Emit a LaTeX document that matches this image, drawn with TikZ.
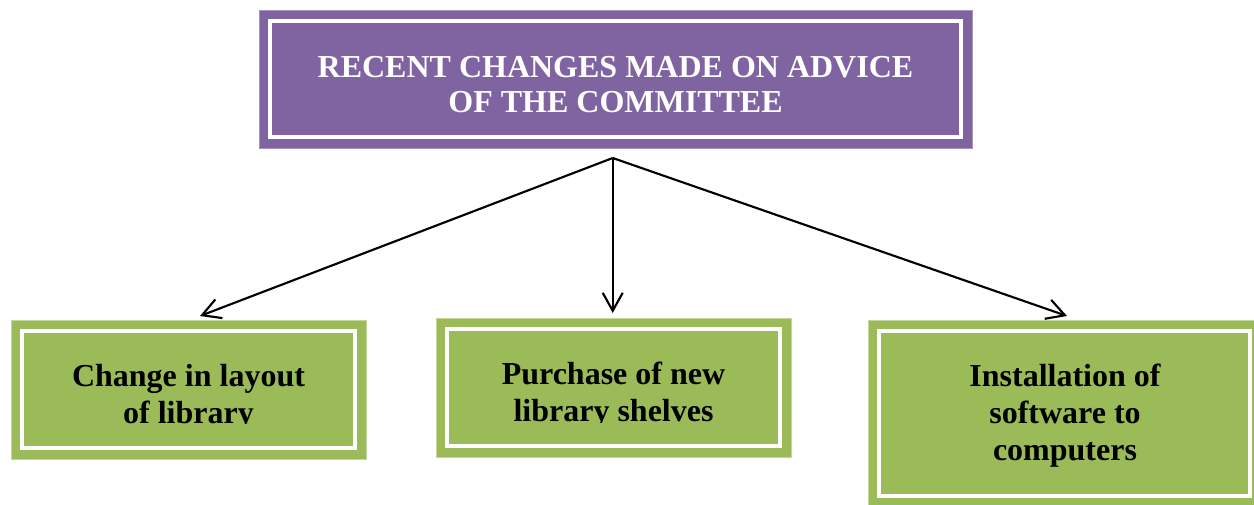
\documentclass[tikz,border=0pt]{standalone}
\usepackage{fontspec}
\setmainfont{Liberation Serif}
\usetikzlibrary{arrows.meta}
\definecolor{purp}{HTML}{8064A2}
\definecolor{purpedge}{HTML}{A593C0}
\definecolor{grn}{HTML}{9BBB59}
\definecolor{grnedge}{HTML}{C3D69B}
\begin{document}
\begin{tikzpicture}[x=0.75pt,y=-0.75pt,
  box/.style={inner sep=0pt, outer sep=0pt, line width=0.75pt,
    path picture={\draw[white,line width=3.2pt]
      ([shift={(11,11)}]path picture bounding box.north west) rectangle
      ([shift={(-11,-11)}]path picture bounding box.south east);}},
  pbox/.style={box, fill=purp, draw=purpedge},
  gbox/.style={box, fill=grn, draw=grnedge},
  txt/.style={font=\fontsize{24}{26}\selectfont\bfseries, inner sep=0pt, anchor=base},
  arr/.style={line width=1.6pt, -{Straight Barb[length=13.5pt,width=15pt,line width=1.6pt]}}]
\useasboundingbox (0,0) rectangle (1254,504);
\clip (0,0) rectangle (1254,504);
\fill[white] (0,0) rectangle (1254,504);

% boxes
\node[pbox, minimum width=534.75pt, minimum height=103.5pt] (top) at (615.5,79) {};
\node[gbox, minimum width=266.25pt, minimum height=104.25pt] (left) at (188.5,389.5) {};
\node[gbox, minimum width=266.25pt, minimum height=104.25pt] (mid) at (613.5,387.5) {};
\node[gbox, minimum width=294.75pt, minimum height=140.25pt] (right) at (1064.5,413.5) {};

% texts
\node[txt, text=white] (t1) at (615.5,77.3) {RECENT CHANGES MADE ON ADVICE};
\node[txt, text=white] (t2) at (615.5,112.5) {OF THE COMMITTEE};

\node[txt] (l1) at (188.5,386.7) {Change in layout};
\begin{scope}
  \clip (40,395) rectangle (340,423.8);
  \node[txt] (l2) at (188.5,423.3) {of library};
\end{scope}

\node[txt] (m1) at (613.5,384) {Purchase of new};
\begin{scope}
  \clip (460,392) rectangle (770,422.2);
  \node[txt] (m2) at (613.5,421.7) {library shelves};
\end{scope}

\node[txt] (r1) at (1065,386) {Installation of};
\node[txt] (r2) at (1065,423.3) {software to};
\node[txt] (r3) at (1065,460.7) {computers};

% connectors
\coordinate (fan) at (612.7,158);
\coordinate (lt) at (200,316);
\coordinate (mt) at (612.7,313);
\coordinate (rt) at (1067,316);
\draw[arr] (fan) -- (lt);
\draw[arr] (fan) -- (mt);
\draw[arr] (fan) -- (rt);
\end{tikzpicture}
\end{document}
